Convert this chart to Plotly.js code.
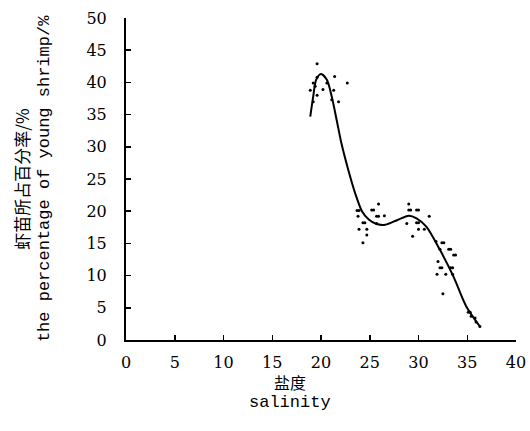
<!DOCTYPE html>
<html><head><meta charset="utf-8">
<script src="https://cdn.plot.ly/plotly-3.0.1.min.js"></script>
<style>body{margin:0;background:#fff}#c{width:530px;height:431px}</style>
</head><body><div id="c"></div>
<script>
// fitted curve
const curveX = [18.9,19.2,19.5,20.0,20.6,21.1,21.6,22.1,22.8,23.5,24.2,24.9,25.7,26.6,27.8,29.0,29.8,30.8,32.2,33.6,34.9,36.3];
const curveY = [34.7,37.8,40.4,41.3,40.4,37.8,34.2,30.5,26.4,22.8,20.0,18.7,18.0,17.9,18.6,19.3,18.9,17.6,14.0,9.8,5.2,2.1];
// observed points
const ptsX = [19.6,21.4,22.7,19.2,19.6,18.9,19.6,20.2,20.6,21.3,21.1,21.8,19.2,19.4,
  23.7,23.9,25.2,25.4,25.9,23.8,25.7,25.9,26.5,24.3,24.5,23.9,24.7,24.7,24.3,25.7,
  29.0,29.0,29.2,29.8,30.0,28.8,29.8,30.0,31.1,30.0,30.6,29.4,31.8,32.4,32.6,33.1,33.3,32.2,33.6,33.8,32.0,32.2,32.4,33.3,33.5,31.9,32.8,33.5,32.5,35.1,35.3,35.4,35.8,35.9,36.3];
const ptsY = [42.9,40.9,39.9,39.9,40.8,38.8,38.0,38.9,39.9,38.8,37.3,37.0,37.0,39.4,
  20.1,20.1,20.2,20.2,21.1,19.2,19.2,19.2,19.3,18.2,18.2,17.2,17.2,16.3,15.1,18.1,
  21.1,20.2,20.2,20.2,20.2,18.1,18.2,18.2,19.2,17.2,17.2,16.1,15.3,15.1,15.1,14.1,14.1,14.1,13.2,13.2,12.2,11.2,11.2,11.2,11.2,10.2,10.2,10.2,7.2,4.3,4.3,3.7,3.4,2.8,2.1];
const xTicks = [0,5,10,15,20,25,30,35,40];
const yTicks = [0,5,10,15,20,25,30,35,40,45,50];

const data = [
  {x: ptsX, y: ptsY, type:'scatter', mode:'markers', marker:{color:'#000', size:3}, hoverinfo:'skip'},
  {x: curveX, y: curveY, type:'scatter', mode:'lines', line:{color:'#000', width:2, shape:'spline', smoothing:0.8}, hoverinfo:'skip'}
];
const serif = "DejaVu Serif";
const mono = "Liberation Mono";
const cjk = "Noto Sans CJK SC";
const tickFont = {family: serif, size:16, color:'#000'};
const layout = {
  width:530, height:431,
  margin:{l:126, r:14, t:18, b:91},
  paper_bgcolor:'#fff', plot_bgcolor:'#fff',
  showlegend:false,
  xaxis:{range:[0,40], tickvals:xTicks, ticktext:xTicks.map(String), ticks:'inside', ticklen:5, tickwidth:1.5, tickcolor:'#000',
    showline:true, linecolor:'#000', linewidth:2, showgrid:false, zeroline:false, tickfont:tickFont, ticklabelstandoff:7, fixedrange:true},
  yaxis:{range:[0,50], tickvals:yTicks, ticktext:yTicks.map(String), ticks:'inside', ticklen:5, tickwidth:1.5, tickcolor:'#000',
    showline:true, linecolor:'#000', linewidth:2, showgrid:false, zeroline:false, tickfont:tickFont, ticklabelstandoff:14, fixedrange:true},
  annotations:[
    {text:'虾苗所占百分率/%', xref:'paper', yref:'paper', x:-0.27, y:0.5, xanchor:'center', yanchor:'middle', textangle:-90, showarrow:false,
      font:{family:cjk, size:17, color:'#000'}},
    {text:'the percentage of young shrimp/%', xref:'paper', yref:'paper', x:-0.21, y:0.5, xanchor:'center', yanchor:'middle', textangle:-90, showarrow:false,
      font:{family:mono, size:17, color:'#000'}},
    {text:'盐度', xref:'paper', yref:'paper', x:0.42, y:-0.13, xanchor:'center', yanchor:'middle', showarrow:false,
      font:{family:cjk, size:16, color:'#000'}},
    {text:'salinity', xref:'paper', yref:'paper', x:0.42, y:-0.195, xanchor:'center', yanchor:'middle', showarrow:false,
      font:{family:mono, size:17, color:'#000'}}
  ]
};
Plotly.newPlot('c', data, layout, {staticPlot:true, displayModeBar:false});
</script></body></html>
